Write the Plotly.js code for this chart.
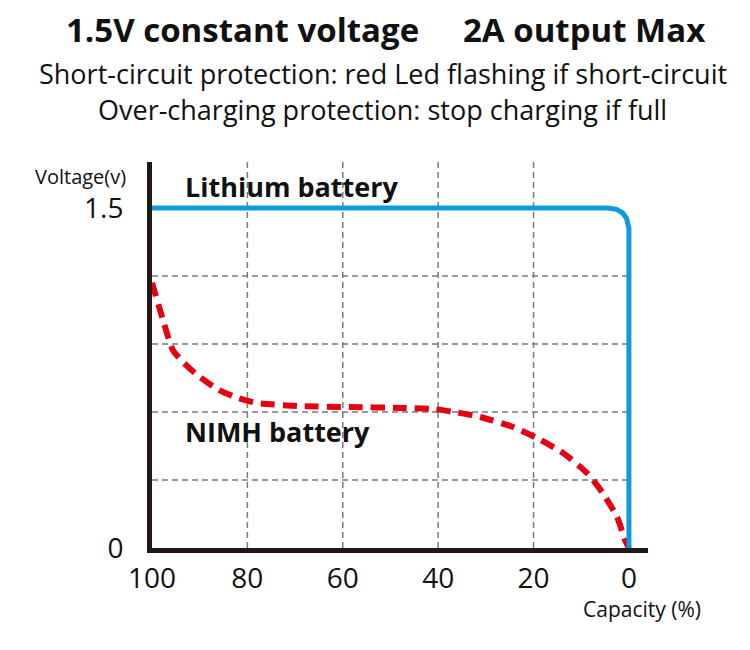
<!DOCTYPE html>
<html>
<head>
<meta charset="utf-8">
<script src="https://cdn.plot.ly/plotly-3.0.1.min.js"></script>
<style>
  html, body { margin: 0; padding: 0; background: #fff; }
  #chart { width: 750px; height: 650px; }
</style>
</head>
<body>
<div id="chart"></div>
<script>
// capacity (%) vs voltage (v)
const lithiumCap = [100, 60, 20, 4.5, 2.6, 1.3, 0.5, 0.1, 0, 0];
const lithiumVolt = [1.5, 1.5, 1.5, 1.5, 1.494, 1.478, 1.455, 1.43, 1.41, 0];

const nimhCap = [100, 97.7, 95.6, 92.5, 89.9, 86, 82, 78, 69, 58.5, 48, 41, 36, 31.2, 24.3, 19.3, 13.8, 8.8, 5.5, 2.5, 0.8, 0];
const nimhVolt = [1.17, 1.006, 0.873, 0.8, 0.754, 0.697, 0.662, 0.64, 0.626, 0.622, 0.618, 0.613, 0.598, 0.578, 0.534, 0.485, 0.419, 0.331, 0.243, 0.137, 0.035, 0];

const xTicks = [100, 80, 60, 40, 20, 0];
const yTicks = [0, 1.5];
const xGrid = [80, 60, 40, 20];
const yGrid = [0.3, 0.6, 0.9, 1.2];

const FONT = 'Open Sans, Noto Sans, sans-serif';
const INK = '#231815';

// dashed grid, stops at the 0% line like the original
const shapes = [];
xGrid.forEach(v => shapes.push({
  type: 'line', layer: 'below', xref: 'x', yref: 'paper',
  x0: v, x1: v, y0: 0, y1: 1,
  line: {color: '#7a7a7a', width: 1.5, dash: '6px,4px'}
}));
yGrid.forEach(v => shapes.push({
  type: 'line', layer: 'below', xref: 'x', yref: 'y',
  x0: 100, x1: 0, y0: v, y1: v,
  line: {color: '#7a7a7a', width: 1.5, dash: '6px,4px'}
}));

const traces = [
  {
    x: nimhCap, y: nimhVolt, type: 'scatter', mode: 'lines',
    line: {color: '#e50012', width: 6, dash: '14px,8px', shape: 'spline', smoothing: 0.6},
    hoverinfo: 'skip'
  },
  {
    x: lithiumCap, y: lithiumVolt, type: 'scatter', mode: 'lines',
    line: {color: '#0f9ae0', width: 5},
    hoverinfo: 'skip'
  }
];

function note(text, x, y, size, extra) {
  return Object.assign({
    text: text, xref: 'paper', yref: 'paper', x: x, y: y,
    xanchor: 'center', yanchor: 'middle', showarrow: false,
    font: {family: FONT, size: size, color: '#111'}
  }, extra || {});
}

const annotations = [
  note('<b>1.5V constant voltage</b>', 0.182, 1.342, 33),
  note('<b>2A output Max</b>', 0.871, 1.342, 33),
  note('Short-circuit protection: red Led flashing if short-circuit', 0.466, 1.23, 27),
  note('Over-charging protection: stop charging if full', 0.465, 1.135, 27),
  note('<b>Lithium battery</b>', 93.5, 1.597, 27, {xref: 'x', yref: 'y', xanchor: 'left'}),
  note('<b>NIMH battery</b>', 93.5, 0.512, 27, {xref: 'x', yref: 'y', xanchor: 'left'}),
  note('Voltage(v)', -0.048, 0.962, 20, {xanchor: 'right'}),
  note('Capacity (%)', 1.11, -0.158, 21, {xanchor: 'right'})
];

const layout = {
  width: 750, height: 650,
  margin: {l: 152, r: 102, t: 162, b: 102},
  paper_bgcolor: '#fff', plot_bgcolor: '#fff',
  showlegend: false,
  xaxis: {
    range: [100, -4], tickvals: xTicks, ticktext: xTicks.map(String),
    showgrid: false, zeroline: false, ticks: '',
    showline: true, linecolor: INK, linewidth: 5,
    ticklabelstandoff: 1,
    tickfont: {family: FONT, size: 28, color: '#111'}
  },
  yaxis: {
    range: [0, 1.703], tickvals: yTicks, ticktext: yTicks.map(String),
    showgrid: false, zeroline: false, ticks: '',
    showline: true, linecolor: INK, linewidth: 5,
    ticklabelstandoff: 18,
    tickfont: {family: FONT, size: 28, color: '#111'}
  },
  shapes: shapes,
  annotations: annotations
};

Plotly.newPlot('chart', traces, layout, {displayModeBar: false, staticPlot: true});
</script>
</body>
</html>
